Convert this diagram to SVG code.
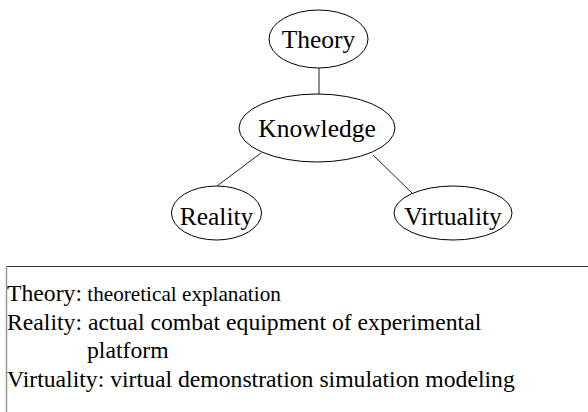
<svg xmlns="http://www.w3.org/2000/svg" width="588" height="412" viewBox="0 0 588 412">
<style>
  .node ellipse { fill: #fff; stroke: #000; stroke-width: 1; }
  .node text { font-family: "Liberation Serif", "Times New Roman", serif; font-size: 25.5px; fill: #000; text-anchor: middle; }
  .edges line { stroke: #222; stroke-width: 1; }
  .legend text { font-family: "Liberation Serif", "Times New Roman", serif; font-size: 23.7px; fill: #000; }
</style>
<rect width="588" height="412" fill="#fff"/>
<g class="edges" id="connectors">
  <line x1="319" y1="68" x2="319" y2="94"/>
  <line x1="261" y1="153" x2="217" y2="186"/>
  <line x1="373" y1="155" x2="412" y2="193"/>
</g>
<g class="node" id="theory">
  <ellipse cx="318.5" cy="39" rx="49.5" ry="29"/>
  <text x="318.5" y="48">Theory</text>
</g>
<g class="node" id="knowledge">
  <ellipse cx="317" cy="128" rx="78" ry="34"/>
  <text x="317" y="137">Knowledge</text>
</g>
<g class="node" id="reality">
  <ellipse cx="216.5" cy="213" rx="45" ry="27"/>
  <text x="216.5" y="225">Reality</text>
</g>
<g class="node" id="virtuality">
  <ellipse cx="453" cy="213" rx="59" ry="27"/>
  <text x="453" y="225">Virtuality</text>
</g>
<g class="legend" id="legend">
  <line x1="6" y1="266.5" x2="588" y2="266.5" stroke="#333" stroke-width="1"/>
  <line x1="6.5" y1="266" x2="6.5" y2="412" stroke="#999" stroke-width="1.5"/>
  <text x="7" y="301">Theory:<tspan font-size="21.2px"> theoretical explanation</tspan></text>
  <text x="7" y="330">Reality: actual combat equipment of experimental</text>
  <text x="87" y="358">platform</text>
  <text x="7" y="387">Virtuality: virtual demonstration simulation modeling</text>
</g>
</svg>
